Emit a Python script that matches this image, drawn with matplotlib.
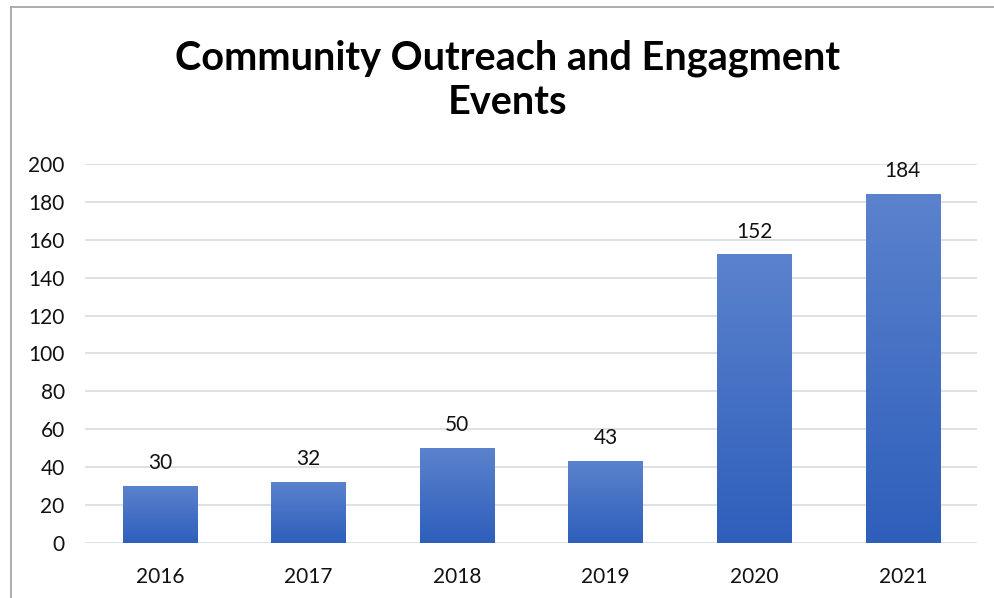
import numpy as np
import matplotlib.pyplot as plt
from matplotlib.colors import LinearSegmentedColormap
from matplotlib.lines import Line2D

years = ['2016', '2017', '2018', '2019', '2020', '2021']
events = [30, 32, 50, 43, 152, 184]
y_ticks = [0, 20, 40, 60, 80, 100, 120, 140, 160, 180, 200]

plt.rcParams['font.family'] = ['Lato', 'DejaVu Sans']

fig = plt.figure(figsize=(9.94, 5.98), dpi=100)
ax = fig.add_axes([0.086, 0.092, 0.897, 0.634])

x = np.arange(len(years))
bars = ax.bar(x, events, width=0.5, color='none', zorder=2)

# vertical gradient inside each bar, lighter at top
grad = LinearSegmentedColormap.from_list('g', ['#2e5fbb', '#5b82cd'])
g = np.linspace(0, 1, 256).reshape(-1, 1)
for b in bars:
    x0, y0 = b.get_x(), b.get_y()
    ax.imshow(g, cmap=grad, origin='lower', aspect='auto', zorder=2,
              extent=[x0, x0 + b.get_width(), y0, y0 + b.get_height()])

for xi, v in zip(x, events):
    ax.text(xi, v + 7, str(v), ha='center', va='bottom', fontsize=15, color='#111111')

ax.set_xlim(-0.5, len(years) - 0.5)
ax.set_ylim(0, 200)
ax.set_yticks(y_ticks)
ax.set_xticks(x)
ax.set_xticklabels(years)
ax.tick_params(axis='both', length=0, labelsize=15, labelcolor='#111111')
ax.tick_params(axis='x', pad=17)
ax.tick_params(axis='y', pad=15)
ax.grid(axis='y', color='#dde1e8', linewidth=1.4, zorder=0)
ax.set_axisbelow(True)
for s in ax.spines.values():
    s.set_visible(False)

fig.text(0.511, 0.866, 'Community Outreach and Engagment\nEvents', ha='center', va='center',
         fontsize=28.5, fontweight='bold', linespacing=1.25)

# chart frame (left and top edges visible)
fig.add_artist(Line2D([0.0106, 0.0106], [0, 0.988], transform=fig.transFigure, color='#a6a6a6', linewidth=1.3))
fig.add_artist(Line2D([0.0106, 1.0], [0.988, 0.988], transform=fig.transFigure, color='#a6a6a6', linewidth=1.3))

fig.savefig('out.png', dpi=100)
